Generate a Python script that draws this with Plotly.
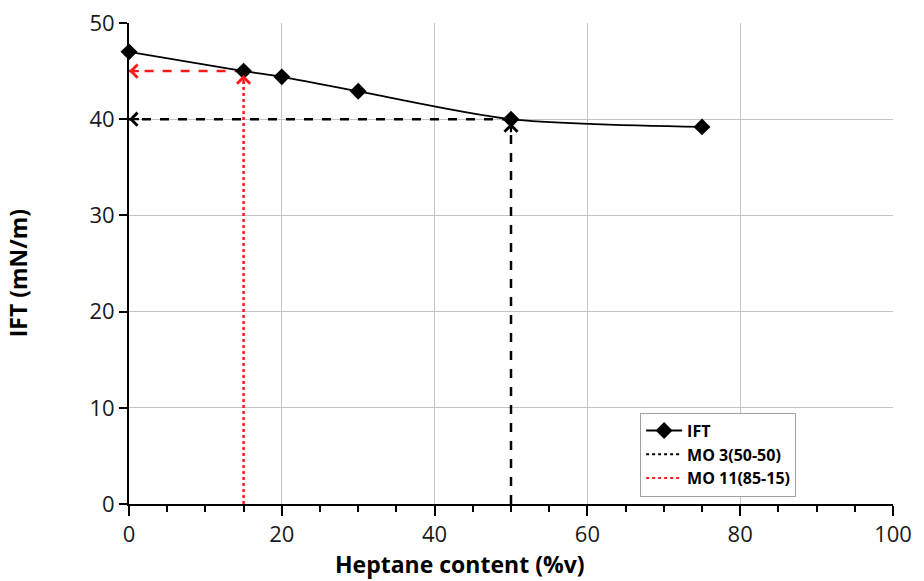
import plotly.graph_objects as go

# IFT versus heptane content of the model oil
heptane = [0, 15, 20, 30, 50, 75]
ift = [47.0, 45.0, 44.4, 42.9, 40.0, 39.2]

# Read-off points for the two model oils
mo3_x, mo3_y = 50, 40.0
mo11_x, mo11_y = 15, 45.0

x_ticks = [0, 20, 40, 60, 80, 100]
y_ticks = [0, 10, 20, 30, 40, 50]

FONT = "Open Sans"
RED = "#ff1a1a"

fig = go.Figure()

# Black read-off lines (MO 3)
fig.add_trace(go.Scatter(x=[mo3_x, 0], y=[mo3_y, mo3_y], mode="lines",
                         line=dict(color="black", width=2.5, dash="dash"),
                         showlegend=False, hoverinfo="skip"))
fig.add_trace(go.Scatter(x=[mo3_x, mo3_x], y=[0, mo3_y], mode="lines",
                         line=dict(color="black", width=2.5, dash="dash"),
                         showlegend=False, hoverinfo="skip"))
# Red read-off lines (MO 11)
fig.add_trace(go.Scatter(x=[mo11_x, 0], y=[mo11_y, mo11_y], mode="lines",
                         line=dict(color=RED, width=2.5, dash="dash"),
                         showlegend=False, hoverinfo="skip"))
fig.add_trace(go.Scatter(x=[mo11_x, mo11_x], y=[0, mo11_y], mode="lines",
                         line=dict(color=RED, width=2.5, dash="dot"),
                         showlegend=False, hoverinfo="skip"))

# Measured IFT curve
fig.add_trace(go.Scatter(x=heptane, y=ift, mode="lines+markers", name="IFT",
                         line=dict(color="black", width=1.8, shape="spline", smoothing=0.8),
                         marker=dict(symbol="diamond", size=13, color="black"),
                         cliponaxis=False))

# Legend entries for the read-off lines
fig.add_trace(go.Scatter(x=[None], y=[None], mode="lines", name="MO 3(50-50)",
                         line=dict(color="black", width=2, dash="dot")))
fig.add_trace(go.Scatter(x=[None], y=[None], mode="lines", name="MO 11(85-15)",
                         line=dict(color=RED, width=2, dash="dot")))

# Arrowheads at the ends of the read-off lines
def arrow(x, y, ax, ay, color, standoff=0):
    fig.add_annotation(x=x, y=y, ax=ax, ay=ay, xref="x", yref="y", axref="x", ayref="y",
                       text="", showarrow=True, arrowhead=4, arrowsize=1.15,
                       arrowwidth=2.2, arrowcolor=color, standoff=standoff)

arrow(0, mo3_y, 1.5, mo3_y, "black")
arrow(mo3_x, mo3_y, mo3_x, mo3_y - 1.5, "black", standoff=4)
arrow(0, mo11_y, 1.5, mo11_y, RED)
arrow(mo11_x, mo11_y, mo11_x, mo11_y - 1.5, RED, standoff=4)

# Axis titles
fig.add_annotation(text="Heptane content (%v)", xref="paper", yref="paper",
                   x=0.433, y=-0.125, xanchor="center", yanchor="middle", showarrow=False,
                   font=dict(size=23, family=FONT, weight="bold", color="black"))
fig.add_annotation(text="IFT (mN/m)", xref="paper", yref="paper", textangle=-90,
                   x=-0.145, y=0.48, xanchor="center", yanchor="middle", showarrow=False,
                   font=dict(size=23, family=FONT, weight="bold", color="black"))

fig.update_layout(
    width=924, height=581,
    margin=dict(l=129, r=31, t=23, b=77, autoexpand=False),
    paper_bgcolor="white", plot_bgcolor="white",
    font=dict(family=FONT, color="#1a1a1a"),
    legend=dict(x=0.669, y=0.19, xanchor="left", yanchor="top",
                bgcolor="white", bordercolor="#a0a0a0", borderwidth=1,
                font=dict(family=FONT, size=16, color="black", weight="bold"),
                itemwidth=36, tracegroupgap=0),
    xaxis=dict(range=[0, 100], tickvals=x_ticks, ticktext=[str(v) for v in x_ticks],
               showgrid=True, gridcolor="#c4c4c4", gridwidth=1,
               showline=True, linecolor="black", linewidth=2,
               ticks="outside", ticklen=10, tickwidth=2, tickcolor="black",
               tickfont=dict(size=22, family=FONT), automargin=False,
               minor=dict(dtick=5, ticks="outside", ticklen=6, tickwidth=2,
                          tickcolor="black", showgrid=False),
               zeroline=False),
    yaxis=dict(range=[0, 50], tickvals=y_ticks, ticktext=[str(v) for v in y_ticks],
               showgrid=True, gridcolor="#c4c4c4", gridwidth=1,
               showline=True, linecolor="black", linewidth=2,
               ticks="outside", ticklen=8, tickwidth=2, tickcolor="black",
               tickfont=dict(size=22, family=FONT), automargin=False,
               zeroline=False),
)

fig.write_html("out.html")
